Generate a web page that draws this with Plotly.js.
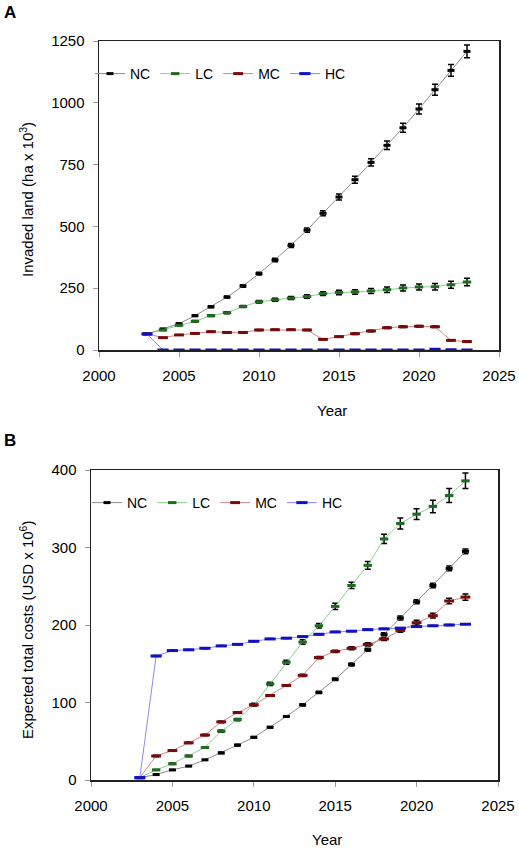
<!DOCTYPE html>
<html>
<head>
<meta charset="utf-8">
<script src="https://cdn.plot.ly/plotly-3.0.1.min.js"></script>
<style>html,body{margin:0;padding:0;background:#fff;}#chart{width:519px;height:849px;}</style>
</head>
<body>
<div id="chart"></div>
<script>
const years = [2003,2004,2005,2006,2007,2008,2009,2010,2011,2012,2013,2014,2015,2016,2017,2018,2019,2020,2021,2022,2023];
const seriesNames = ['NC','LC','MC','HC'];

// Panel A: Invaded land (ha x 10^3)
const landNC = [65,85,106,139,175,214,259,309,364,423,485,553,619,689,759,828,899,975,1053,1131,1208];
const landLC = [65,81,100,116,139,151,176,195,203,210,216,228,233,235,239,244,251,255,256,264,275];
const landMC = [65,50,61,67,74,71,71,81,82,82,81,43,54,66,77,90,94,96,94,39,34];
const landHC = [65,0,0,0,0,0,0,0,0,0,0,0,0,0,0,0,0,0,3,1,0];
const landErrNC = [0,2,3,3,4,4,5,6,7,8,9,10,12,14,15,17,18,20,22,24,26];
const landErrLC = [0,2,2,3,3,4,4,5,6,6,7,8,9,9,10,11,12,12,13,14,15];
const landErrMC = [0,1,1,1,2,2,2,2,2,2,2,2,2,3,3,3,3,3,3,2,2];
const landErrHC = [0,0,0,0,0,0,0,0,0,0,0,0,0,0,0,0,0,0,1,0,0];

// Panel B: Expected total costs (USD x 10^6)
const costNC = [3,7,13,18,26,35,45,55,68,82,97,113,130,149,168,188,209,230,251,273,295];
const costLC = [3,13,21,31,42,63,78,97,124,152,178,199,224,251,277,311,331,343,353,367,386];
const costMC = [3,31,38,48,58,75,87,97,109,122,135,158,166,170,175,182,193,203,212,231,236];
const costHC = [3,160,167,168,170,173,175,179,182,183,185,188,191,192,194,195,196,198,199,200,201];
const costErrNC = [0,0.3,0.5,0.5,0.5,1,1,1,1,1,1.5,1.5,1.5,2,2,2,2.5,2.5,3,3,3];
const costErrLC = [0,0.5,1,1,1,1.5,1.5,2,2,2.5,3,3,4,4,5,6,7,7,8,9,10];
const costErrMC = [0,1,1,1,1,1,1,1,1,1,1.5,1.5,1.5,2,2,2,2.5,3,3,3.5,4];
const costErrHC = [0,0.5,0.5,0.5,0.5,0.5,0.5,0.5,0.5,0.5,0.5,0.5,0.5,0.5,0.5,0.5,0.5,0.5,0.5,0.5,0.5];

const xTickVals = [2000,2005,2010,2015,2020,2025];
const landTicks = [0,250,500,750,1000,1250];
const costTicks = [0,100,200,300,400];

const lineColors = ['#8c8c8c','#8fcf8f','#cc8a8a','#8c8cf0'];
const markerColors = ['#000000','#1d6b1d','#7a0a0a','#1010c8'];
const markerSizes = [5,6,7,8];

const FONT = 'Liberation Sans, Arial, sans-serif';

function mk(y, err, i, xa, ya, leg) {
  return {
    x: years, y: y, name: seriesNames[i], type: 'scatter', mode: 'lines+markers',
    xaxis: xa, yaxis: ya, legend: leg, cliponaxis: false,
    line: {color: lineColors[i], width: 1},
    marker: {symbol: 'line-ew', size: markerSizes[i], line: {color: markerColors[i], width: 3}},
    error_y: {type: 'data', array: err, visible: true, color: '#000', thickness: 1.5, width: 3}
  };
}

const traces = [
  mk(landNC, landErrNC, 0, 'x', 'y', 'legend'),
  mk(landLC, landErrLC, 1, 'x', 'y', 'legend'),
  mk(landMC, landErrMC, 2, 'x', 'y', 'legend'),
  mk(landHC, landErrHC, 3, 'x', 'y', 'legend'),
  mk(costNC, costErrNC, 0, 'x2', 'y2', 'legend2'),
  mk(costLC, costErrLC, 1, 'x2', 'y2', 'legend2'),
  mk(costMC, costErrMC, 2, 'x2', 'y2', 'legend2'),
  mk(costHC, costErrHC, 3, 'x2', 'y2', 'legend2')
];

const W = 519, H = 849;
const px = v => v / W;
const py = v => 1 - v / H;

const axisCommon = {
  showline: true, linecolor: '#222', linewidth: 1.5, mirror: true,
  ticks: 'outside', ticklen: 5, tickcolor: '#999', tickwidth: 1,
  showgrid: false, zeroline: false,
  tickfont: {family: FONT, size: 15, color: '#000'}
};

const legendCommon = {orientation: 'h', xanchor: 'left', yanchor: 'middle', bgcolor: 'rgba(0,0,0,0)', font: {family: FONT, size: 14}, itemwidth: 30, tracegroupgap: 0};

const layout = {
  width: W, height: H,
  margin: {l: 0, r: 0, t: 0, b: 0},
  paper_bgcolor: '#fff', plot_bgcolor: '#fff',
  font: {family: FONT, size: 15, color: '#000'},
  xaxis: Object.assign({}, axisCommon, {domain: [px(99), px(499)], range: [2000, 2025], tickvals: xTickVals, anchor: 'y', ticklabelstandoff: 6}),
  yaxis: Object.assign({}, axisCommon, {domain: [py(350), py(41)], range: [0, 1250], tickvals: landTicks, anchor: 'x', ticklabelstandoff: 5}),
  xaxis2: Object.assign({}, axisCommon, {domain: [px(91), px(498)], range: [2000, 2025], tickvals: xTickVals, anchor: 'y2', ticklabelstandoff: 6}),
  yaxis2: Object.assign({}, axisCommon, {domain: [py(780), py(470)], range: [0, 400], tickvals: costTicks, anchor: 'x2', ticklabelstandoff: 5}),
  legend: Object.assign({}, legendCommon, {x: px(90), y: py(74)}),
  legend2: Object.assign({}, legendCommon, {x: px(87), y: py(503)}),
  annotations: [
    {text: '<b>A</b>', xref: 'paper', yref: 'paper', x: px(10), y: py(12.5), xanchor: 'center', yanchor: 'middle', showarrow: false, font: {family: FONT, size: 17}},
    {text: '<b>B</b>', xref: 'paper', yref: 'paper', x: px(10), y: py(440), xanchor: 'center', yanchor: 'middle', showarrow: false, font: {family: FONT, size: 17}},
    {text: 'Invaded land (ha x 10<sup>3</sup>)', xref: 'paper', yref: 'paper', x: px(26), y: py(200), xanchor: 'center', yanchor: 'middle', textangle: -90, showarrow: false, font: {family: FONT, size: 15}},
    {text: 'Expected total costs (USD x 10<sup>6</sup>)', xref: 'paper', yref: 'paper', x: px(26), y: py(630), xanchor: 'center', yanchor: 'middle', textangle: -90, showarrow: false, font: {family: FONT, size: 15}},
    {text: 'Year', xref: 'paper', yref: 'paper', x: px(332), y: py(410), xanchor: 'center', yanchor: 'middle', showarrow: false, font: {family: FONT, size: 15}},
    {text: 'Year', xref: 'paper', yref: 'paper', x: px(327), y: py(839), xanchor: 'center', yanchor: 'middle', showarrow: false, font: {family: FONT, size: 15}}
  ]
};

Plotly.newPlot('chart', traces, layout, {displayModeBar: false, staticPlot: true});
</script>
</body>
</html>
